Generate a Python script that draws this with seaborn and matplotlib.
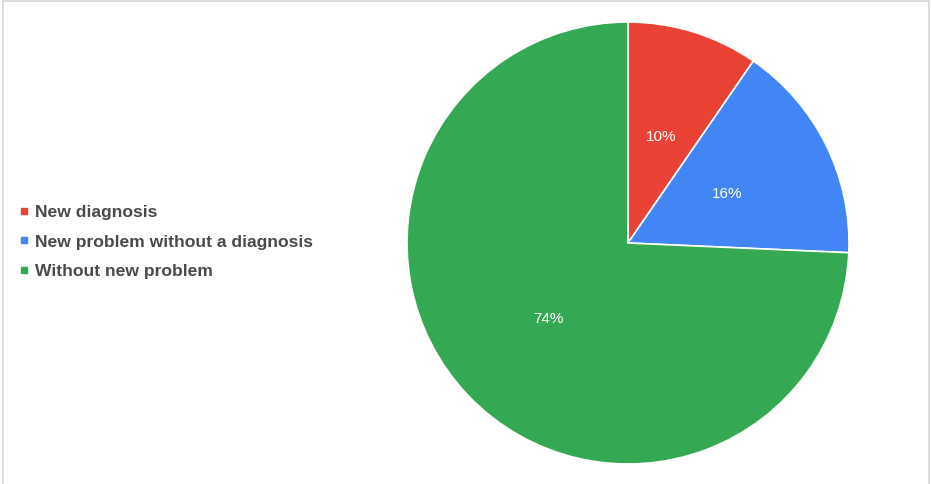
import matplotlib
matplotlib.use("Agg")
import matplotlib.pyplot as plt
from matplotlib.lines import Line2D
import seaborn as sns

categories = ["New diagnosis", "New problem without a diagnosis", "Without new problem"]
shares = [9.6, 16.1, 74.3]
colors = ["#EA4335", "#4285F4", "#34A853"]

sns.set_theme(style="white")
plt.rcParams["font.family"] = ["Liberation Sans", "DejaVu Sans"]

W, H = 932, 484
fig = plt.figure(figsize=(W / 100, H / 100), dpi=100)
fig.patch.set_facecolor("white")

# pie occupies a square around its centre
cx, cy, r = 628, 243, 221
ax = fig.add_axes([(cx - r) / W, (H - cy - r) / H, 2 * r / W, 2 * r / H])
wedges, texts, autotexts = ax.pie(
    shares,
    colors=colors,
    startangle=90,
    counterclock=False,
    autopct=lambda p: f"{p:.0f}%",
    pctdistance=0.5,
    radius=1.0,
    wedgeprops=dict(edgecolor="white", linewidth=1.2),
    textprops=dict(color="white", fontsize=11),
)
ax.set_xlim(-1, 1)
ax.set_ylim(-1, 1)
ax.set_aspect("equal")
ax.axis("off")

# legend with small square markers
handles = [Line2D([0], [0], marker="s", linestyle="none", markersize=5,
                  markerfacecolor=c, markeredgecolor=c) for c in colors]
leg = fig.legend(handles, categories, loc="center left",
                 bbox_to_anchor=(10 / W, (H - 242) / H),
                 frameon=False, handlelength=0.6, handletextpad=0.35,
                 labelspacing=0.82, borderpad=0,
                 prop=dict(family="Liberation Sans", weight="bold", size=12.6))
for t in leg.get_texts():
    t.set_color("#4a4a4a")

# light frame on left, top and right edges
frame = dict(color="#d6d6d6", linewidth=1.2, transform=fig.transFigure)
fig.add_artist(Line2D([2.5 / W, 2.5 / W], [0, 1 - 1 / H], **frame))
fig.add_artist(Line2D([2.5 / W, 928.5 / W], [1 - 1 / H, 1 - 1 / H], **frame))
fig.add_artist(Line2D([928.5 / W, 928.5 / W], [0, 1 - 1 / H], **frame))

fig.savefig("out.png", dpi=100, facecolor="white")
